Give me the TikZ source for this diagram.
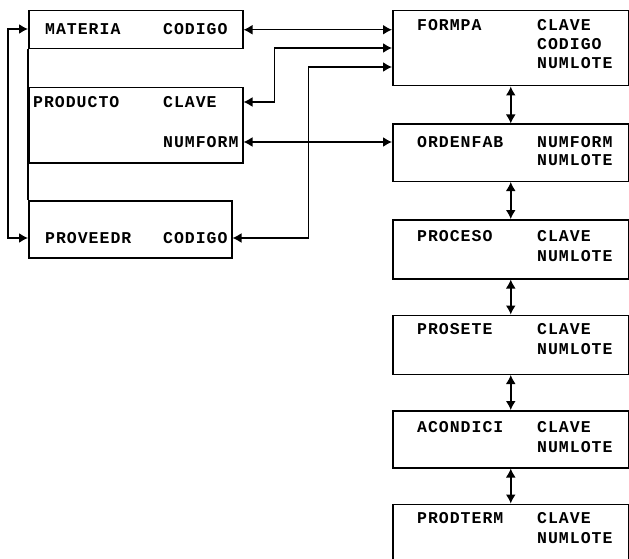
\documentclass[tikz,border=0pt]{standalone}
\usepackage{fontspec}
\newfontfamily\dotfont[LetterSpace=6]{Liberation Mono}
\usepackage{tikz}
\usetikzlibrary{positioning}
\usetikzlibrary{arrows.meta}

\tikzset{
    tabla/.style={draw, line width=1.5pt, inner sep=0pt, minimum width=236pt},
    campo/.style={anchor=west, inner sep=0pt, font=\dotfont\bfseries\fontsize{16.5}{19}\selectfont},
    liga/.style={line width=1.5pt, {Latex[length=9pt,width=10pt]}-{Latex[length=9pt,width=10pt]}},
}

\begin{document}
\begin{tikzpicture}[x=1pt, y=-1pt]
    \useasboundingbox (0,0) rectangle (629,559);
    \clip (0,0) rectangle (629,559);

    % left tables
    \node[tabla, anchor=north west, minimum width=214pt, minimum height=38pt] (materia) at (28,10) {};
    \node[tabla, anchor=north west, minimum width=214pt, minimum height=75pt] (producto) at (28,87) {};
    \node[tabla, anchor=north west, minimum width=203pt, minimum height=57pt] (proveedr) at (28,200) {};

    \node[campo] (materia-n) at (45,29) {MATERIA};
    \node[campo] (materia-c) at (163,29) {CODIGO};
    \node[campo] (producto-n) at (33,102) {PRODUCTO};
    \node[campo] (producto-c) at (163,102) {CLAVE};
    \node[campo] (producto-f) at (163,142) {NUMFORM};
    \node[campo] (proveedr-n) at (45,238) {PROVEEDR};
    \node[campo] (proveedr-c) at (163,238) {CODIGO};

    % right column
    \node[tabla, anchor=north west, minimum height=75pt] (formpa) at (392,10) {};
    \node[tabla, minimum height=57pt, below=37pt of formpa] (ordenfab) {};
    \node[tabla, minimum height=59pt, below=37pt of ordenfab] (proceso) {};
    \node[tabla, minimum height=59pt, below=35pt of proceso] (prosete) {};
    \node[tabla, minimum height=57pt, below=35pt of prosete] (acondici) {};
    \node[tabla, minimum height=80pt, below=35pt of acondici] (prodterm) {};

    \node[campo] (formpa-n) at ([shift={(25,15)}]formpa.north west) {FORMPA};
    \node[campo] (formpa-c) at ([shift={(145,15)}]formpa.north west) {CLAVE};
    \node[campo] (formpa-g) at ([shift={(145,34)}]formpa.north west) {CODIGO};
    \node[campo] (formpa-l) at ([shift={(145,53)}]formpa.north west) {NUMLOTE};
    \node[campo] (ordenfab-f) at ([shift={(145,19)}]ordenfab.north west) {NUMFORM};
    \node[campo] (ordenfab-l) at ([shift={(145,37)}]ordenfab.north west) {NUMLOTE};

    \foreach \t/\n/\d in {ordenfab/ORDENFAB/19, proceso/PROCESO/17, prosete/PROSETE/15, acondici/ACONDICI/17, prodterm/PRODTERM/15} {
        \node[campo] (\t-n) at ([shift={(25,\d)}]\t.north west) {\n};
    }
    \foreach \t/\d in {proceso/17, prosete/15, acondici/17, prodterm/15} {
        \node[campo] (\t-c) at ([shift={(145,\d)}]\t.north west) {CLAVE};
        \node[campo] (\t-l) at ([shift={(145,\d+20)}]\t.north west) {NUMLOTE};
    }

    % links
    \coordinate (f2) at ([shift={(0,38)}]formpa.north west);
    \coordinate (f3) at ([shift={(0,57)}]formpa.north west);

    \draw[line width=1.5pt] (materia.south west) -- (proveedr.north west);
    \draw[liga] (materia) -- (materia -| formpa.west);
    \draw[liga] (producto-c -| producto.east) -- ++(31,0) |- (f2);
    \draw[liga] (proveedr-c -| proveedr.east) -- ++(76,0) |- (f3);
    \draw[liga] (producto-f -| producto.east) -- (producto-f -| ordenfab.west);
    \draw[liga] (materia-n -| materia.west) -- ++(-20,0) |- (proveedr-n -| proveedr.west);

    \draw[liga] (formpa) -- (ordenfab);
    \draw[liga] (ordenfab) -- (proceso);
    \draw[liga] (proceso) -- (prosete);
    \draw[liga] (prosete) -- (acondici);
    \draw[liga] (acondici) -- (prodterm);
\end{tikzpicture}
\end{document}
